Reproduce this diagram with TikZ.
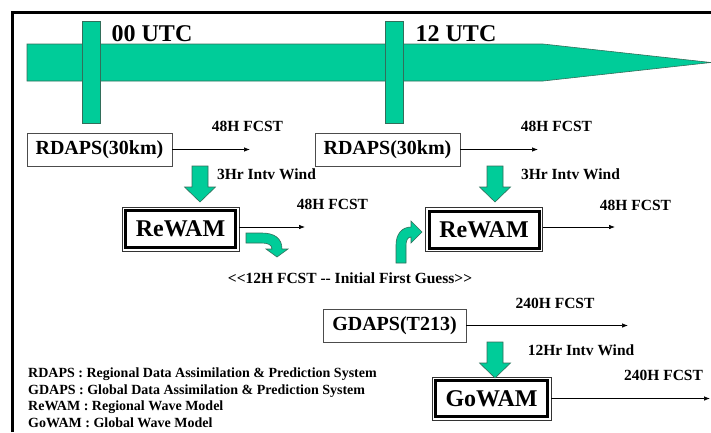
\documentclass[tikz,border=0pt]{standalone}
\usepackage{fontspec}
\setmainfont{Liberation Serif}
\usetikzlibrary{arrows.meta, positioning, fit}

\definecolor{wavegreen}{RGB}{0,204,153}
\definecolor{waveedge}{RGB}{50,110,90}

\begin{document}
\begin{tikzpicture}[x=1pt, y=-1pt,
    srcbox/.style={rectangle, draw=black!70, line width=0.8pt, fill=white, minimum width=145pt, minimum height=33pt, inner sep=0pt, font=\fontsize{20}{24}\selectfont\bfseries},
    wavebox/.style={rectangle, draw=black, line width=3pt, fill=white, minimum width=110pt, minimum height=37pt, inner sep=0pt, font=\fontsize{24}{28}\selectfont\bfseries},
    waveframe/.style={rectangle, draw=black!80, line width=0.8pt, inner sep=2pt},
    lbl/.style={anchor=base, inner sep=0pt, font=\fontsize{15.5}{18}\selectfont\bfseries},
    legend/.style={anchor=base west, inner sep=0pt, font=\fontsize{14}{16}\selectfont\bfseries},
    utc/.style={anchor=base, inner sep=0pt, font=\fontsize{24}{28}\selectfont\bfseries},
    flow/.style={-{Latex[length=6pt,width=4.5pt]}, line width=0.7pt},
    band/.style={fill=wavegreen, draw=waveedge, line width=0.6pt}
]
    \useasboundingbox (0,0) rectangle (711,432);
    \draw[line width=3pt] (12,432) -- (12,12) -- (711,12);

    % time axis
    \filldraw[band] (27,44) -- (543,44) -- (711,62.5) -- (543,81) -- (27,81) -- cycle;
    \foreach \bx in {82,385}
        \filldraw[band] (\bx,21) rectangle (\bx+18,123);
    \node[utc] (t00) at (152,41) {00 UTC};
    \node[utc] (t12) at (456,41) {12 UTC};

    % models
    \node[srcbox] (rd1) at (99.5,149.5) {RDAPS(30km)};
    \node[srcbox] (rd2) at (387.5,149.5) {RDAPS(30km)};
    \node[srcbox, minimum width=143pt] (gd) at (394.5,325.5) {GDAPS(T213)};
    \node[wavebox] (rw1) at (180.5,229) {ReWAM};
    \node[wavebox] (rw2) at (484,229.5) {ReWAM};
    \node[wavebox, minimum width=112pt, minimum height=36pt] (gw) at (491.5,398.5) {GoWAM};
    \node[waveframe, fit=(rw1)] (rw1f) {};
    \node[waveframe, fit=(rw2)] (rw2f) {};
    \node[waveframe, fit=(gw)] (gwf) {};

    % forecast ends
    \coordinate (rd1end) at (250,149.5);
    \coordinate (rd2end) at (538,149.5);
    \coordinate (rw1end) at (305,227);
    \coordinate (rw2end) at (615,227);
    \coordinate (gdend) at (628,325.5);
    \coordinate (gwend) at (710,398.5);
    \draw[flow] (rd1.east) -- (rd1end);
    \draw[flow] (rd2.east) -- (rd2end);
    \draw[flow] (rw1f.east |- rw1end) -- (rw1end);
    \draw[flow] (rw2f.east |- rw2end) -- (rw2end);
    \draw[flow] (gd.east) -- (gdend);
    \draw[flow] (gwf.east) -- (gwend);

    % wind forcing
    \foreach \ax/\ya/\yb in {200/166/202, 495/166/202, 495/342/378}
        \filldraw[band] (\ax-8,\ya) -- (\ax+8,\ya) -- (\ax+8,\yb-15) -- (\ax+15.5,\yb-15)
            -- (\ax,\yb) -- (\ax-15.5,\yb-15) -- (\ax-8,\yb-15) -- cycle;

    % first guess
    \filldraw[band] (246,233) -- (262,233) .. controls (274,233) and (282,238) .. (282,249)
        -- (288,249) -- (277,257) -- (266,249) -- (272,249)
        .. controls (272,245) and (268,243) .. (262,243) -- (246,243) -- cycle;
    \filldraw[band] (396,263) -- (396,245) .. controls (396,234) and (402,227) .. (411,227)
        -- (411,221) -- (422,232) -- (411,243) -- (411,237)
        .. controls (408,237) and (406,240) .. (406,245) -- (406,263) -- cycle;

    \node[lbl] (f1) at (247.5,131.5) {48H FCST};
    \node[lbl] (f2) at (556.5,131.5) {48H FCST};
    \node[lbl] (w1) at (266.5,179) {3Hr Intv Wind};
    \node[lbl] (w2) at (570.5,179) {3Hr Intv Wind};
    \node[lbl] (f3) at (332.5,209) {48H FCST};
    \node[lbl] (f4) at (635.5,210) {48H FCST};
    \node[lbl] (guess) at (350,283) {<{}<12H FCST -{}- Initial First Guess>{}>};
    \node[lbl] (f5) at (555,308) {240H FCST};
    \node[lbl] (w3) at (581,355) {12Hr Intv Wind};
    \node[lbl] (f6) at (663.5,380) {240H FCST};

    % legend
    \node[legend] (l1) at (28,377.5) {RDAPS : Regional Data Assimilation \& Prediction System};
    \node[legend] (l2) at (28,394) {GDAPS : Global Data Assimilation \& Prediction System};
    \node[legend] (l3) at (28,410.5) {ReWAM : Regional Wave Model};
    \node[legend] (l4) at (28,427) {GoWAM : Global Wave Model};
\end{tikzpicture}
\end{document}
